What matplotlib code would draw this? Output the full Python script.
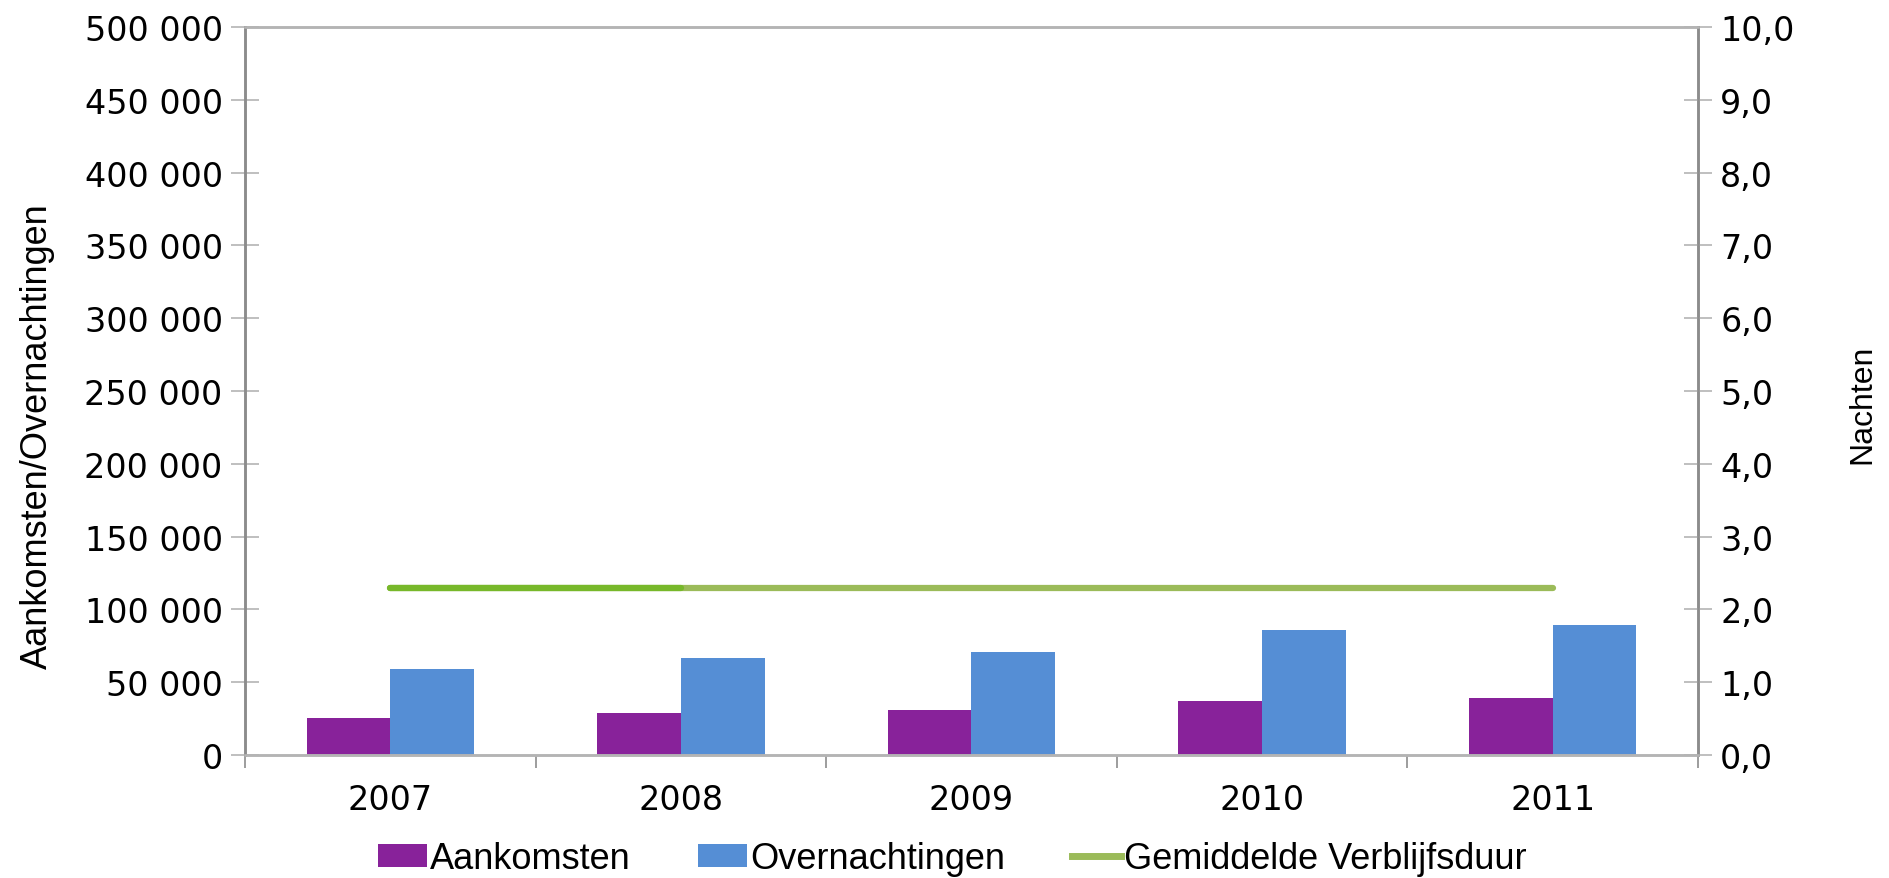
import matplotlib
matplotlib.use("Agg")
import matplotlib.pyplot as plt
from matplotlib.patches import Patch
from matplotlib.lines import Line2D
from matplotlib.ticker import FixedLocator, FuncFormatter

years = ["2007", "2008", "2009", "2010", "2011"]
aankomsten = [25400, 29000, 30900, 37100, 38900]
overnachtingen = [59000, 66400, 70900, 85600, 89000]
verblijfsduur = [2.3, 2.3, 2.3, 2.3, 2.3]

PURPLE = "#88229a"
BLUE = "#558ed5"
GREEN = "#9bbb59"
GREEN_1ST = "#77b82a"
AX_DARK = "#8c8c8c"
AX_LIGHT = "#b4b4b4"

plt.rcParams["font.family"] = ["DejaVu Sans"]

fig = plt.figure(figsize=(18.9, 8.79), dpi=100)
ax = fig.add_axes([0.1296, 0.140, 0.7688, 0.828])
ax2 = ax.twinx()

x = list(range(len(years)))
w = 0.288
ax.bar([i - w / 2 for i in x], aankomsten, width=w, color=PURPLE, zorder=2)
ax.bar([i + w / 2 for i in x], overnachtingen, width=w, color=BLUE, zorder=2)

ax2.plot(x, verblijfsduur, color=GREEN, lw=4.5, solid_capstyle="round", zorder=3)
ax2.plot(x[:2], verblijfsduur[:2], color=GREEN_1ST, lw=4.5,
         solid_capstyle="round", zorder=4)

ax.set_xlim(-0.5, len(years) - 0.5)
ax.set_ylim(0, 500000)
ax2.set_ylim(0, 10)

# left axis
ax.yaxis.set_major_locator(FixedLocator(range(0, 500001, 50000)))
ax.yaxis.set_major_formatter(FuncFormatter(lambda v, p: f"{int(v):,}".replace(",", " ")))
ax.tick_params(axis="y", direction="inout", length=20, width=1.2, color=AX_LIGHT,
               labelsize=24, pad=6)
# right axis
ax2.yaxis.set_major_locator(FixedLocator(range(0, 11)))
ax2.yaxis.set_major_formatter(FuncFormatter(lambda v, p: f"{v:.1f}".replace(".", ",")))
ax2.tick_params(axis="y", direction="inout", length=20, width=1.2, color=AX_LIGHT,
                labelsize=24, pad=6)

# category axis: labels centred, ticks on boundaries
ax.set_xticks(x)
ax.set_xticklabels(years)
ax.set_xticks([i - 0.5 for i in range(len(years) + 1)], minor=True)
ax.tick_params(axis="x", which="major", length=0, labelsize=24, pad=20)
ax.tick_params(axis="x", which="minor", direction="out", length=9, width=1.2,
               color=AX_DARK)

for a in (ax, ax2):
    a.spines["left"].set_color(AX_DARK)
    a.spines["right"].set_color(AX_DARK)
    a.spines["top"].set_color(AX_LIGHT)
    a.spines["bottom"].set_color(AX_LIGHT)
    for s in a.spines.values():
        s.set_linewidth(1.8)

ax.set_ylabel("Aankomsten/Overnachtingen", fontsize=26,
              family=["Liberation Sans"])
ax.yaxis.set_label_coords(-0.131, 0.44)
ax2.set_ylabel("Nachten", fontsize=23, family=["Liberation Sans"], rotation=90)
ax2.yaxis.set_label_coords(1.103, 0.483)

handles = [
    Patch(facecolor=PURPLE, edgecolor="none"),
    Patch(facecolor=BLUE, edgecolor="none"),
    Line2D([0], [0], color=GREEN, lw=5),
]
fig.legend(handles, ["Aankomsten", "Overnachtingen", "Gemiddelde Verblijfsduur"],
           loc="lower center", bbox_to_anchor=(0.504, -0.035), ncol=3,
           frameon=False, prop={"family": "Liberation Sans", "size": 26},
           handlelength=1.35, handleheight=0.62, handletextpad=0.1,
           columnspacing=1.85)

fig.savefig("out.png", dpi=100)
